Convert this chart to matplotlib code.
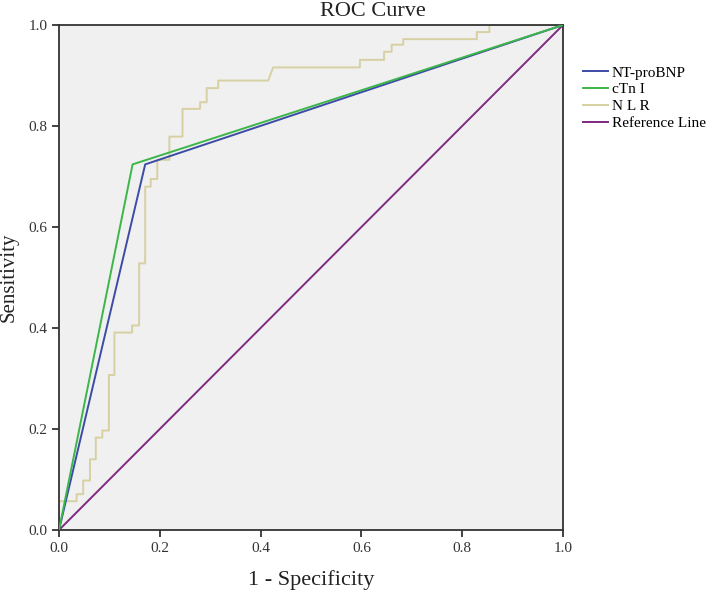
import matplotlib
matplotlib.use("Agg")
import matplotlib.pyplot as plt

# ROC points
fpr_bnp = [0.0, 0.171, 1.0]
tpr_bnp = [0.0, 0.724, 1.0]

fpr_ctn = [0.0, 0.146, 1.0]
tpr_ctn = [0.0, 0.724, 1.0]

fpr_nlr = [0, 0, 0.035, 0.035, 0.048, 0.048, 0.0615, 0.0615, 0.073, 0.073,
           0.086, 0.086, 0.099, 0.099, 0.11, 0.11, 0.145, 0.145, 0.159, 0.159,
           0.171, 0.171, 0.182, 0.182, 0.195, 0.195, 0.219, 0.219, 0.245, 0.245,
           0.28, 0.28, 0.293, 0.293, 0.316, 0.316, 0.415, 0.425, 0.597, 0.597,
           0.645, 0.645, 0.66, 0.66, 0.683, 0.683, 0.829, 0.829, 0.854, 0.854, 1.0]
tpr_nlr = [0, 0.057, 0.057, 0.071, 0.071, 0.098, 0.098, 0.14, 0.14, 0.183,
           0.183, 0.197, 0.197, 0.307, 0.307, 0.391, 0.391, 0.405, 0.405, 0.528,
           0.528, 0.68, 0.68, 0.695, 0.695, 0.733, 0.733, 0.779, 0.779, 0.834,
           0.834, 0.847, 0.847, 0.875, 0.875, 0.89, 0.89, 0.916, 0.916, 0.931,
           0.931, 0.947, 0.947, 0.961, 0.961, 0.972, 0.972, 0.986, 0.986, 1.0, 1.0]

ref = [0.0, 1.0]

labels = ["NT-proBNP", "cTn I", "N L R", "Reference Line"]
colors = ["#3c4ba6", "#3cb64a", "#d6d0a2", "#7e2a80"]

plt.rcParams["font.family"] = ["Liberation Serif", "DejaVu Serif"]

fig = plt.figure(figsize=(7.09, 5.90), dpi=100)
ax = fig.add_axes([59/709, 1 - 530/590, 504/709, 505/590])
ax.set_facecolor("#f0f0f0")

ax.plot(fpr_bnp, tpr_bnp, color=colors[0], lw=1.4, label=labels[0], zorder=3)
ax.plot(fpr_ctn, tpr_ctn, color=colors[1], lw=1.4, label=labels[1], zorder=3)
ax.plot(fpr_nlr, tpr_nlr, color=colors[2], lw=1.4, label=labels[2], zorder=2)
ax.plot(ref, ref, color=colors[3], lw=1.4, label=labels[3], zorder=2)

ax.set_xlim(0, 1)
ax.set_ylim(0, 1)
ticks = [0.0, 0.2, 0.4, 0.6, 0.8, 1.0]
ax.set_xticks(ticks)
ax.set_yticks(ticks)
ax.set_xticklabels([f"{t:.1f}" for t in ticks])
ax.set_yticklabels([f"{t:.1f}" for t in ticks])
ax.tick_params(direction="out", length=5, width=1.2, colors="#222222",
               labelsize=11, labelcolor="#333333")
for s in ax.spines.values():
    s.set_color("#333333")
    s.set_linewidth(1.3)

ax.set_xlabel("1 - Specificity", fontsize=16, color="#222222", va="center")
ax.xaxis.set_label_coords(0.5, (530 - 580) / 505)
ax.set_ylabel("Sensitivity", fontsize=15, color="#222222", va="center")
ax.yaxis.set_label_coords((9 - 59) / 504, 0.5)

fig.text(373 / 709, 1 - 11 / 590, "ROC Curve", fontsize=16, color="#222222",
         ha="center", va="center")

ax.legend(loc="upper left", bbox_to_anchor=((583 - 59) / 504, (530 - 66) / 505),
          frameon=False, fontsize=11, handlelength=1.65, handletextpad=0.25,
          labelspacing=0.2, borderpad=0, borderaxespad=0)

fig.savefig("out.png", dpi=100, facecolor="white")
